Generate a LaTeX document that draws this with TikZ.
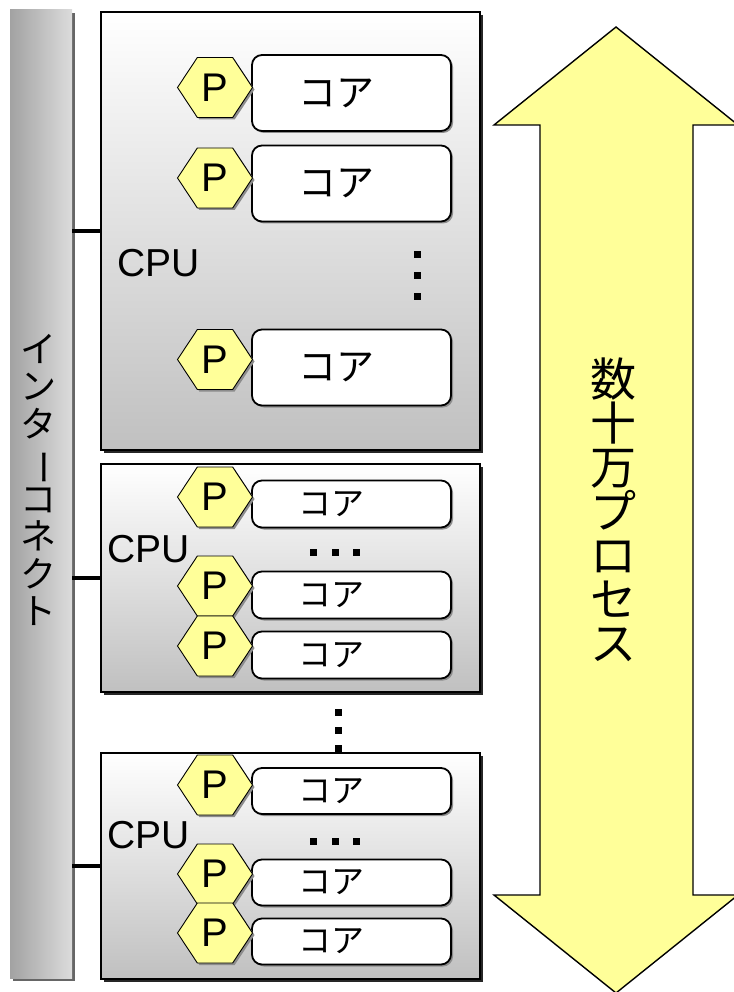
\documentclass[tikz,border=0pt]{standalone}
\usepackage{fontspec}
\setmainfont{Liberation Sans}
\newfontfamily\jp{Noto Sans CJK JP}
\usetikzlibrary{shapes.symbols,shadows}
\definecolor{pyellow}{HTML}{FFFF99}
\definecolor{cpubot}{HTML}{C0C0C0}
\definecolor{barL}{HTML}{A2A2A2}
\definecolor{barR}{HTML}{DCDCDC}
\tikzset{
  cpubox/.style={draw=black, line width=2pt, top color=white, bottom color=cpubot, inner sep=0pt,
    drop shadow={shadow xshift=3pt, shadow yshift=-3pt, fill=black!85, opacity=1}},
  corebox/.style={draw=black, line width=1.8pt, fill=white, rounded corners=10pt, inner sep=0pt,
    minimum width=199pt, drop shadow={shadow xshift=2pt, shadow yshift=-2pt, fill=black!45, opacity=1}},
  hexp/.style={signal, signal to=east and west, signal pointer angle=113, draw=black, line width=0.9pt,
    fill=pyellow, minimum width=75pt, minimum height=60pt, inner sep=0pt,
    font=\fontsize{40}{40}\selectfont,
    drop shadow={shadow xshift=2pt, shadow yshift=-2pt, fill=black!45, opacity=1}},
  cpulabel/.style={anchor=base west, inner sep=0pt, font=\fontsize{39}{39}\selectfont},
  conn/.style={draw=black, line width=3.5pt},
  dotsq/.style={fill=black},
}
\newcommand{\dotsquare}[2]{\fill[dotsq] (#1-3.5,#2-3.5) rectangle (#1+3.5,#2+3.5);}
\begin{document}
\begin{tikzpicture}[x=1pt,y=-1pt]
\useasboundingbox (0,0) rectangle (733,992);

% interconnect bar
\node[inner sep=0pt, minimum width=62pt, minimum height=968pt, left color=barL, right color=barR,
  drop shadow={shadow xshift=3pt, shadow yshift=-3pt, fill=black!60, opacity=1}] (bar) at (41,494) {};
\node[inner sep=0pt, align=center, font=\jp\fontsize{36}{37.5}\selectfont] (bartext) at (38,480)
  {イ\\ン\\タ\\\rotatebox[origin=c]{-90}{ー}\\コ\\ネ\\ク\\ト};

% big double arrow
\draw[fill=pyellow, draw=black, line width=1.4pt]
  (616,27) -- (738,125) -- (693,125) -- (693,895) -- (738,895) -- (616,993)
  -- (494,895) -- (540,895) -- (540,125) -- (494,125) -- cycle;
\node[inner sep=0pt, align=center, font=\jp\fontsize{46}{44}\selectfont] (arrtext) at (613,510)
  {数\\十\\万\\プ\\ロ\\セ\\ス};

% between-box dots (drawn before box 3 so it covers the last one)
\dotsquare{338}{712}\dotsquare{338}{730}\dotsquare{338}{748}

% CPU boxes
\node[cpubox, minimum width=379pt, minimum height=438pt] (cpu1) at (290.5,231) {};
\node[cpubox, minimum width=379pt, minimum height=228pt] (cpu2) at (290.5,578) {};
\node[cpubox, minimum width=379pt, minimum height=226pt] (cpu3) at (290.5,866) {};

% connectors
\draw[conn] (cpu1.west) -- (cpu1.west -| bar.east);
\draw[conn] (cpu2.west) -- (cpu2.west -| bar.east);
\draw[conn] (cpu3.west) -- (cpu3.west -| bar.east);

% CPU 1
\node[cpulabel] (cpul1) at (117,276) {CPU};
\node[corebox, minimum height=76pt, font=\jp\fontsize{38}{38}\selectfont] (c11) at (351.5,93) {コア\kern30pt};
\node[corebox, minimum height=76pt, font=\jp\fontsize{38}{38}\selectfont] (c12) at (351.5,183.5) {コア\kern30pt};
\node[corebox, minimum height=76pt, font=\jp\fontsize{38}{38}\selectfont] (c13) at (351.5,367.5) {コア\kern30pt};
\node[hexp] (p11) at (215,87.5) {P};
\node[hexp] (p12) at (215,178) {P};
\node[hexp] (p13) at (215,359.5) {P};
\dotsquare{417}{254}\dotsquare{417}{275}\dotsquare{417}{296}

% CPU 2
\node[corebox, minimum height=47pt, font=\jp\fontsize{33}{33}\selectfont] (c21) at (351.5,504) {\raisebox{-2pt}{コア}\kern40pt};
\node[corebox, minimum height=47pt, font=\jp\fontsize{33}{33}\selectfont] (c22) at (351.5,595) {\raisebox{-2pt}{コア}\kern40pt};
\node[corebox, minimum height=47pt, font=\jp\fontsize{33}{33}\selectfont] (c23) at (351.5,655) {\raisebox{-2pt}{コア}\kern40pt};
\node[hexp] (p21) at (215,497) {P};
\node[hexp] (p22) at (215,586) {P};
\node[hexp] (p23) at (215,646) {P};
\node[cpulabel] (cpul2) at (107,562) {CPU};
\dotsquare{313}{552}\dotsquare{335}{552}\dotsquare{356}{552}

% CPU 3
\node[corebox, minimum height=46pt, font=\jp\fontsize{33}{33}\selectfont] (c31) at (351.5,791) {\raisebox{-2pt}{コア}\kern40pt};
\node[corebox, minimum height=46pt, font=\jp\fontsize{33}{33}\selectfont] (c32) at (351.5,882.5) {\raisebox{-2pt}{コア}\kern40pt};
\node[corebox, minimum height=46pt, font=\jp\fontsize{33}{33}\selectfont] (c33) at (351.5,941.5) {\raisebox{-2pt}{コア}\kern40pt};
\node[hexp] (p31) at (215,785) {P};
\node[hexp] (p32) at (215,874) {P};
\node[hexp] (p33) at (215,933) {P};
\node[cpulabel] (cpul3) at (107,848) {CPU};
\dotsquare{313}{841}\dotsquare{335}{841}\dotsquare{356}{841}
\end{tikzpicture}
\end{document}
